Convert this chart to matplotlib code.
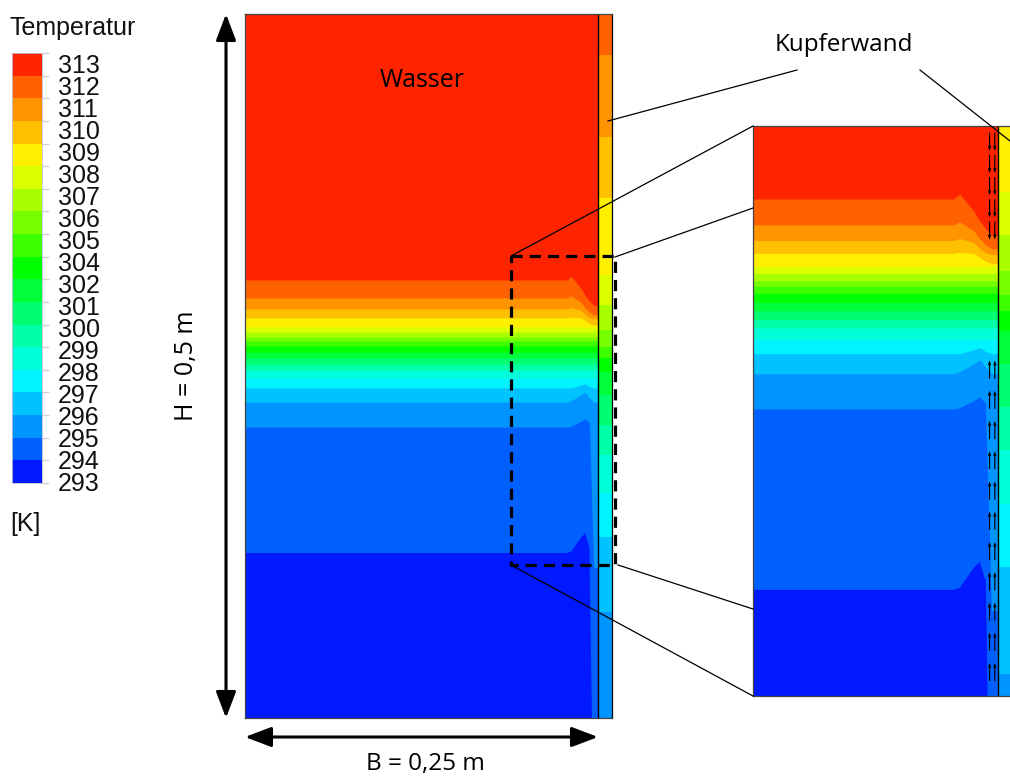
import numpy as np
import matplotlib.pyplot as plt
from matplotlib.colors import ListedColormap, BoundaryNorm
from matplotlib.cm import ScalarMappable

# --- Data ---------------------------------------------------------------

# Contour levels (Ansys: 19 equal bands from 293 K to 313 K) and printed labels
levels = np.linspace(293, 313, 20)
level_labels = ['293', '294', '295', '296', '297', '298', '299', '300', '301', '302',
                '304', '305', '306', '307', '308', '309', '310', '311', '312', '313']

# Band colours, cold -> hot
band_colors = ['#0019FF', '#0060FF', '#0094FF', '#00C2FF', '#00F4FF', '#00FFD8',
               '#00FFA6', '#00FF70', '#00FF38', '#00FF00', '#3CFF00', '#76FF00',
               '#A8FF00', '#DCFF00', '#FFF000', '#FFC000', '#FF9400', '#FF6000',
               '#FF2400']

# Height (m) of isotherm j = 1..18 in the water bulk
iso_water = [0.1172, 0.2067, 0.2244, 0.2344, 0.2415, 0.2472, 0.2514, 0.2557, 0.2599,
             0.2642, 0.2678, 0.2706, 0.2741, 0.2777, 0.2841, 0.2905, 0.2983, 0.3111]

# Height (m) of isotherm j = 1..18 inside the copper wall
iso_wall = [0.0, 0.0, 0.0753, 0.1286, 0.1598, 0.1868, 0.2081, 0.2294, 0.2457,
            0.2557, 0.2635, 0.2756, 0.2933, 0.3146, 0.3693, 0.4126, 0.4709, 0.5]

# Near-wall deformation of some isotherms (offset in m vs. distance to wall)
bump_d = [0.030, 0.022, 0.019, 0.012, 0.009, 0.006, 0.003, 0.0]
wall_bump = {
    1: [0, 0, 0.001, 0.011, 0.014, 0.004, -0.2, -0.2],
    2: [0, 0, 0.0005, 0.004, 0.006, 0.003, -0.1, -0.1],
    3: [0, 0, 0.001, 0.005, 0.007, 0.003, 0, 0],
    4: [0, 0, 0, 0.002, 0.003, 0.001, 0, 0],
    15: [0, 0, 0.0005, 0, -0.002, -0.004, -0.005, -0.005],
    16: [0, 0, 0.001, -0.001, -0.004, -0.006, -0.007, -0.007],
    17: [0, 0, 0.0015, -0.003, -0.007, -0.010, -0.012, -0.012],
    18: [0, 0, 0.0025, -0.006, -0.011, -0.015, -0.018, -0.018],
}

# Velocity vectors along the wall (inset only)
down_y = [0.344, 0.333, 0.322, 0.311, 0.300]
up_y = [0.072, 0.087, 0.102, 0.117, 0.132, 0.147, 0.162, 0.177, 0.192, 0.207, 0.222]

B = 0.25      # water width
t_wall = 0.01  # copper wall thickness
H = 0.5

# --- Drawing -------------------------------------------------------------

xs = np.concatenate([np.linspace(0, 0.215, 40), np.linspace(0.215, B, 500)])


def paint_field(ax):
    ax.fill_between(xs, 0, H, color=band_colors[0], lw=0)
    for j, h in enumerate(iso_water, start=1):
        y = np.full_like(xs, h)
        if j in wall_bump:
            y = y + np.interp(B - xs, bump_d[::-1], wall_bump[j][::-1])
        ax.fill_between(xs, y, H, color=band_colors[j], lw=0)
    xw = [B, B + t_wall]
    ax.fill_between(xw, 0, H, color=band_colors[0], lw=0)
    for j, h in enumerate(iso_wall, start=1):
        ax.fill_between(xw, h, H, color=band_colors[j], lw=0)
    ax.axvline(B, color='black', lw=1)
    ax.set_xticks([])
    ax.set_yticks([])
    for s in ax.spines.values():
        s.set_color('#444444')
        s.set_linewidth(0.9)


fig = plt.figure(figsize=(10.1, 7.78), dpi=100)
W, Hpx = 1010, 778

# main domain
ax = fig.add_axes([245 / W, 60 / Hpx, 367 / W, 704 / Hpx])
paint_field(ax)
ax.set_xlim(0, B + t_wall)
ax.set_ylim(0, H)
ax.spines['right'].set_color('black')

# dashed zoom box
bx = [0.1884, 0.262, 0.262, 0.1884, 0.1884]
by = [0.3281, 0.3281, 0.1087, 0.1087, 0.3281]
ax.plot(bx, by, color='black', lw=2.3, ls=(0, (3.5, 2.2)), clip_on=False, zorder=5)

# inset
axi = fig.add_axes([753 / W, 82 / Hpx, 265.3 / W, 570 / Hpx])
paint_field(axi)
axi.set_xlim(0.129, B + t_wall)
axi.set_ylim(0.0646, 0.3473)
for xq in [B - 0.0016, B - 0.0042]:
    axi.quiver([xq] * len(down_y), down_y, 0, -0.009, angles='xy', scale_units='xy',
               scale=1, color='black', width=0.0045, headwidth=2.6, headlength=3.5, zorder=4)
    axi.quiver([xq] * len(up_y), up_y, 0, 0.009, angles='xy', scale_units='xy',
               scale=1, color='black', width=0.0045, headwidth=2.6, headlength=3.5, zorder=4)

# colour bar
cax = fig.add_axes([12 / W, 295 / Hpx, 30 / W, 430 / Hpx])
cmap = ListedColormap(band_colors)
norm = BoundaryNorm(levels, cmap.N)
cb = fig.colorbar(ScalarMappable(norm=norm, cmap=cmap), cax=cax, ticks=levels)
cb.outline.set_edgecolor('#c0c0d8')
cb.outline.set_linewidth(0.6)
cax.set_yticklabels([])
cax.tick_params(axis='y', length=5, width=1, color='#d0d0d0', direction='out')
label_frac = np.linspace(-0.0023, 0.970, 20)
for lf, lab in zip(label_frac, level_labels):
    cax.text(1.53, lf, lab, transform=cax.transAxes, ha='left', va='center',
             fontsize=18, family='Liberation Sans', color='#111111')

# overlay for annotations, in pixel coordinates
ov = fig.add_axes([0, 0, 1, 1], zorder=10)
ov.set_xlim(0, W)
ov.set_ylim(Hpx, 0)
ov.axis('off')

ov.text(10, 28, 'Temperatur', ha='left', va='center', fontsize=18,
        family='Liberation Sans', color='#111111')
ov.text(10, 524, '[K]', ha='left', va='center', fontsize=18,
        family='Liberation Sans', color='#111111')

connectors = [((511, 256), (753, 126)), ((615, 257), (753, 208)),
              ((511, 565), (753, 696)), ((618, 565), (753, 609)),
              ((608, 121), (797, 70)), ((920, 70), (1010, 141))]
for (x0, y0), (x1, y1) in connectors:
    ov.plot([x0, x1], [y0, y1], color='black', lw=0.9)

arrow = dict(arrowstyle='<|-|>,head_length=1.0,head_width=0.38', color='black',
             lw=2.2, shrinkA=0, shrinkB=0, mutation_scale=16)
ov.annotate('', xy=(226, 14), xytext=(226, 718), arrowprops=arrow)
ov.annotate('', xy=(245, 737), xytext=(598, 737), arrowprops=arrow)

ov.text(186, 366, 'H = 0,5 m', rotation=90, ha='center', va='center',
        fontsize=18, family='Open Sans')
ov.text(425, 764, 'B = 0,25 m', ha='center', va='center', fontsize=17.5, family='Open Sans')
ov.text(422, 80, 'Wasser', ha='center', va='center', fontsize=18, family='Open Sans')
ov.text(844, 45, 'Kupferwand', ha='center', va='center', fontsize=17.5, family='Open Sans')

fig.savefig('out.png', dpi=100)
